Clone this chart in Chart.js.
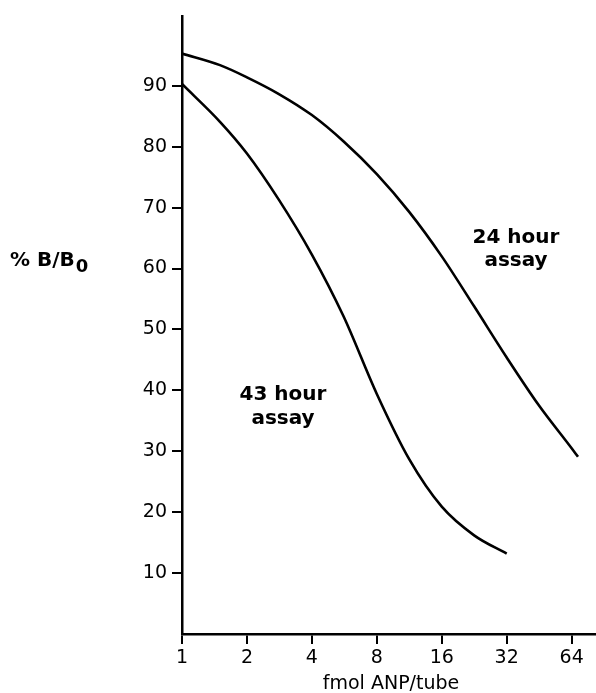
<!DOCTYPE html>
<html>
<head>
<meta charset="utf-8">
<script src="https://cdn.jsdelivr.net/npm/chart.js@4/dist/chart.umd.min.js"></script>
<style>
  html, body { margin: 0; padding: 0; background: #fff; }
  #wrap { position: relative; width: 596px; height: 693px; }
</style>
</head>
<body>
<div id="wrap"><canvas id="c" width="596" height="693"></canvas></div>
<script>
// ---- data ----
const xTickValues = [1, 2, 4, 8, 16, 32, 64];
const yTickValues = [10, 20, 30, 40, 50, 60, 70, 80, 90];

const dose24 = [1, 1.5, 2, 2.8, 4, 5.6, 8, 11.3, 16, 22.6, 32, 45, 64, 68.5];
const pct24  = [95.3, 93.4, 91.4, 88.7, 85.2, 80.9, 75.5, 69.3, 62.0, 53.8, 45.4, 37.6, 30.5, 29.1];

const dose43 = [1, 1.5, 2, 2.8, 4, 5.6, 8, 11.3, 16, 22.6, 32];
const pct43  = [90.3, 84.1, 78.9, 71.4, 62.3, 52.2, 39.4, 28.7, 20.9, 16.2, 13.2];

const xTitle = 'fmol ANP/tube';
const yTitle = '% B/B';
const yTitleSub = '0';
const label24 = ['24 hour', 'assay'];
const label43 = ['43 hour', 'assay'];

const toPts = (xs, ys) => xs.map((x, i) => ({ x: x, y: ys[i] }));

const FONT = '"DejaVu Sans", Verdana, sans-serif';

const textPlugin = {
  id: 'texts',
  afterDraw(chart) {
    const ctx = chart.ctx;
    ctx.save();
    ctx.fillStyle = '#000';
    ctx.textBaseline = 'alphabetic';
    // y title "% B/B0"
    ctx.font = 'bold 20px ' + FONT;
    ctx.textAlign = 'left';
    ctx.fillText(yTitle, 10, 266);
    const w = ctx.measureText(yTitle).width;
    ctx.font = 'bold 18px ' + FONT;
    ctx.fillText(yTitleSub, 10 + w + 1, 272);
    // curve labels
    ctx.font = 'bold 20px ' + FONT;
    ctx.textAlign = 'center';
    ctx.fillText(label24[0], 516, 243);
    ctx.fillText(label24[1], 516, 266);
    ctx.fillText(label43[0], 283, 400);
    ctx.fillText(label43[1], 283, 424);
    // x title
    ctx.font = '19px ' + FONT;
    ctx.fillText(xTitle, 391, 689);
    ctx.restore();
  }
};

const lineStyle = {
  borderColor: '#000',
  borderWidth: 2.6,
  pointRadius: 0,
  fill: false,
  cubicInterpolationMode: 'monotone'
};

new Chart(document.getElementById('c'), {
  type: 'line',
  data: {
    datasets: [
      Object.assign({ label: '24 hour assay', data: toPts(dose24, pct24) }, lineStyle),
      Object.assign({ label: '43 hour assay', data: toPts(dose43, pct43) }, lineStyle)
    ]
  },
  options: {
    responsive: false,
    animation: false,
    layout: { padding: { top: 13, right: 0, left: 0, bottom: 0 } },
    plugins: { legend: { display: false }, tooltip: { enabled: false } },
    scales: {
      x: {
        type: 'logarithmic',
        min: 1,
        max: 83,
        afterBuildTicks: (s) => { s.ticks = xTickValues.map(v => ({ value: v })); },
        afterFit: (s) => { s.height = 59; },
        ticks: {
          color: '#000',
          font: { family: FONT, size: 19 },
          padding: 3,
          maxRotation: 0,
          autoSkip: false,
          callback: (v) => String(v)
        },
        grid: { drawOnChartArea: false, color: '#000', lineWidth: 2, tickLength: 10 },
        border: { display: true, color: '#000', width: 2.5 }
      },
      y: {
        type: 'linear',
        min: 0,
        max: 101.4,
        afterBuildTicks: (s) => { s.ticks = yTickValues.map(v => ({ value: v })); },
        afterFit: (s) => { s.width = 182; },
        ticks: {
          color: '#000',
          font: { family: FONT, size: 19 },
          padding: 5,
          autoSkip: false
        },
        grid: { drawOnChartArea: false, color: '#000', lineWidth: 2, tickLength: 10 },
        border: { display: true, color: '#000', width: 2.5 }
      }
    }
  },
  plugins: [textPlugin]
});
</script>
</body>
</html>
